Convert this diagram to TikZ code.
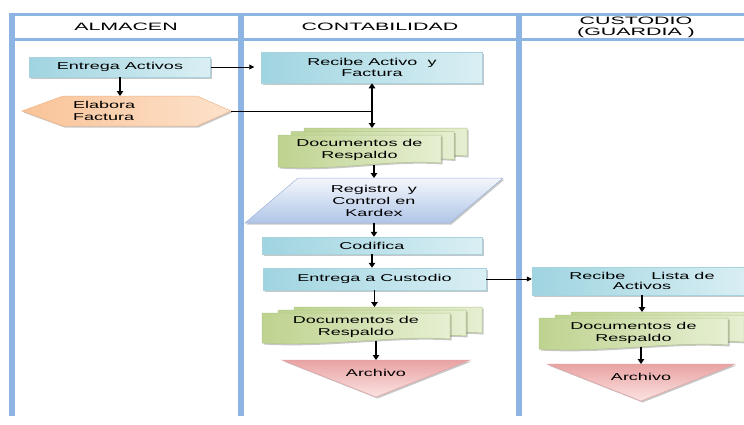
\documentclass[tikz,border=0pt]{standalone}
\usepackage{fontspec}
\setmainfont{Liberation Sans}
\newfontfamily\bodyfont[FakeStretch=1.8]{Liberation Sans}
\newfontfamily\headfont[FakeStretch=2.0]{Liberation Sans}
\usetikzlibrary{arrows.meta,shadows,backgrounds}

\definecolor{lane}{HTML}{8DB4E2}
\definecolor{bluel}{HTML}{9FD4E0}
\definecolor{bluer}{HTML}{DAEFF4}
\definecolor{blued}{HTML}{A6D3DD}
\definecolor{greenl}{HTML}{BED38F}
\definecolor{greenr}{HTML}{E6EFD2}
\definecolor{greend}{HTML}{B3C889}
\definecolor{orangel}{HTML}{F9C398}
\definecolor{oranger}{HTML}{FDE2CB}
\definecolor{oranged}{HTML}{EFB58A}
\definecolor{parat}{HTML}{F4F7FC}
\definecolor{parab}{HTML}{AFC5E7}
\definecolor{parad}{HTML}{9DB4DA}
\definecolor{pinkt}{HTML}{E9A2A2}
\definecolor{pinkb}{HTML}{FBE3E3}
\definecolor{pinkd}{HTML}{E2A3A3}

\tikzset{
  lanev/.style={draw=lane, line width=6pt},
  laneh/.style={draw=lane, line width=3pt},
  hdr/.style={font=\headfont\fontsize{10.7}{10.3}\selectfont, align=center, inner sep=0pt},
  bodytxt/.style={font=\bodyfont\fontsize{10}{12}\selectfont, align=center, inner sep=0pt},
  softshadow/.style={drop shadow={shadow xshift=1.5pt, shadow yshift=-1.5pt, fill=black, opacity=0.22}},
  procbox/.style={bodytxt, rectangle, left color=bluel, right color=bluer, draw=blued,
    line width=0.5pt, softshadow},
  frame/.style={rectangle, inner sep=0pt, outer sep=0pt},
  docsheet/.style={left color=greenl, right color=greenr, draw=greend, line width=0.5pt, softshadow},
  hexfill/.style={left color=orangel, right color=oranger, draw=oranged, line width=0.5pt, softshadow},
  parafill/.style={top color=parat, bottom color=parab, draw=parad, line width=0.5pt, softshadow},
  trifill/.style={top color=pinkt, bottom color=pinkb, draw=pinkd, line width=0.5pt, softshadow},
  flow/.style={draw=black, line width=1.3pt, -{Triangle[length=5pt,width=6.5pt]}},
  flowboth/.style={draw=black, line width=1.3pt, {Triangle[length=5pt,width=6.5pt]}-{Triangle[length=5pt,width=6.5pt]}},
  link/.style={draw=black, line width=0.8pt},
  linkarrow/.style={link, -{Triangle[length=5pt,width=5pt]}},
}

% one sheet of a document stack: left, top, right, bottom-left corner y
\newcommand\drawdoc[4]{%
  \path[docsheet] ({#1},{#2}) -- ({#3},{#2}) -- ({#3},{(#4)-4})
    .. controls ({(#3)-0.3*((#3)-(#1))},{(#4)-8}) and ({(#1)+0.35*((#3)-(#1))},{(#4)+4}) .. ({#1},{#4}) -- cycle;}

% stack of three sheets: name, x0, y0, x1, y1 of the front sheet, offset dx, dy, text
\newcommand\docstack[8]{%
  \begin{scope}[on background layer]
    \drawdoc{(#2)+2*(#6)}{(#3)-2*(#7)}{(#4)+2*(#6)}{(#5)-2*(#7)}
    \drawdoc{(#2)+(#6)}{(#3)-(#7)}{(#4)+(#6)}{(#5)-(#7)}
    \drawdoc{#2}{#3}{#4}{#5}
  \end{scope}
  \node[bodytxt, frame, minimum width={((#4)-(#2))*1pt}, minimum height={((#5)-(#3)-2)*1pt}]
    (#1) at ({((#2)+(#4))/2},{((#3)+(#5)-2)/2}) {#8};
  \coordinate (#1-top) at ({((#2)+(#4))/2},{(#3)-2*(#7)});
}

\begin{document}
\begin{tikzpicture}[x=1pt, y=-1pt]
\useasboundingbox (0,0) rectangle (744,424);

% swimlanes
\begin{scope}[on background layer]
  \path[laneh] (9,14.5) -- (744,14.5);
  \path[laneh] (9,39.5) -- (744,39.5);
  \path[lanev] (12,13) -- (12,416);
  \path[lanev] (241,13) -- (241,416);
  \path[lanev] (519,13) -- (519,416);
\end{scope}

\node[hdr] (hAlm) at (126,27) {ALMACEN};
\node[hdr] (hCon) at (380,27) {CONTABILIDAD};
\node[hdr] (hCus) at (636,27.5) {CUSTODIO\\(GUARDIA\ )};

% ALMACEN
\node[procbox, minimum width=181pt, minimum height=20pt] (entA) at (120,67) {Entrega Activos};
\node[frame, minimum width=209pt, minimum height=30pt] (elab) at (126.5,111) {};
\begin{scope}[on background layer]
  \path[hexfill] (elab.west) -- ([xshift=41pt]elab.north west) -- ([xshift=-34pt]elab.north east)
    -- (elab.east) -- ([xshift=-34pt]elab.south east) -- ([xshift=41pt]elab.south west) -- cycle;
\end{scope}
\node[bodytxt, align=left, anchor=west] (elabtxt) at (73,110.5) {Elabora\\Factura};

% CONTABILIDAD
\node[procbox, minimum width=221pt, minimum height=31pt, font=\bodyfont\fontsize{10}{10.5}\selectfont]
  (recAF) at (372,67.5) {Recibe Activo\ \ y\\Factura};
\docstack{doc1}{278}{135}{441}{167}{13}{3.5}{Documentos de\\Respaldo}
\node[bodytxt, frame, minimum width=258pt, minimum height=45pt] (reg) at (374,200.5)
  {Registro\ \ y\\Control en\\Kardex};
\begin{scope}[on background layer]
  \path[parafill] ([xshift=53pt]reg.north west) -- (reg.north east)
    -- ([xshift=-53pt]reg.south east) -- (reg.south west) -- cycle;
\end{scope}
\node[procbox, minimum width=220pt, minimum height=17pt] (codif) at (372,245.5) {Codifica};
\node[procbox, minimum width=223pt, minimum height=22pt] (entC) at (374.5,279) {Entrega a Custodio};
\docstack{doc2}{262}{313}{450}{343}{16}{3}{Documentos de\\Respaldo}
\node[bodytxt, frame, minimum width=188pt, minimum height=26pt] (arch2) at (376,373) {Archivo};
\begin{scope}[on background layer]
  \path[trifill] (arch2.north west) -- (arch2.north east) -- ([yshift=-11pt]arch2.south) -- cycle;
\end{scope}

% CUSTODIO
\node[procbox, minimum width=220pt, minimum height=28pt, font=\bodyfont\fontsize{10}{10.5}\selectfont]
  (recL) at (642,281) {Recibe\hspace{26pt}Lista de\\Activos};
\docstack{doc3}{539}{318}{728}{349}{16}{3}{Documentos de\\Respaldo}
\node[bodytxt, frame, minimum width=188pt, minimum height=26pt] (arch3) at (641,377) {Archivo};
\begin{scope}[on background layer]
  \path[trifill] (arch3.north west) -- (arch3.north east) -- ([yshift=-11pt]arch3.south) -- cycle;
\end{scope}

% connectors
\draw[flow] (entA.south) -- (entA.south |- elab.north);
\draw[linkarrow, shorten >=7pt] (entA.east) -- (entA.east -| recAF.west);
\draw[link] (elab.east) -- (elab.east -| recAF.south);
\draw[flowboth] (recAF.south) -- (recAF.south |- doc1-top);
\draw[flow] (doc1.south -| reg.north) -- (reg.north);
\draw[flow] (reg.south) -- (reg.south |- codif.north);
\draw[flow] (codif.south) -- (codif.south |- entC.north);
\draw[linkarrow] (entC.east) -- (entC.east -| recL.west);
\draw[flow] (entC.south) -- (entC.south |- doc2-top);
\draw[flow] (doc2.south -| arch2.north) -- (arch2.north);
\draw[flow] (recL.south) -- (recL.south |- doc3-top);
\draw[flow] (doc3.south -| arch3.north) -- (arch3.north);
\end{tikzpicture}
\end{document}
